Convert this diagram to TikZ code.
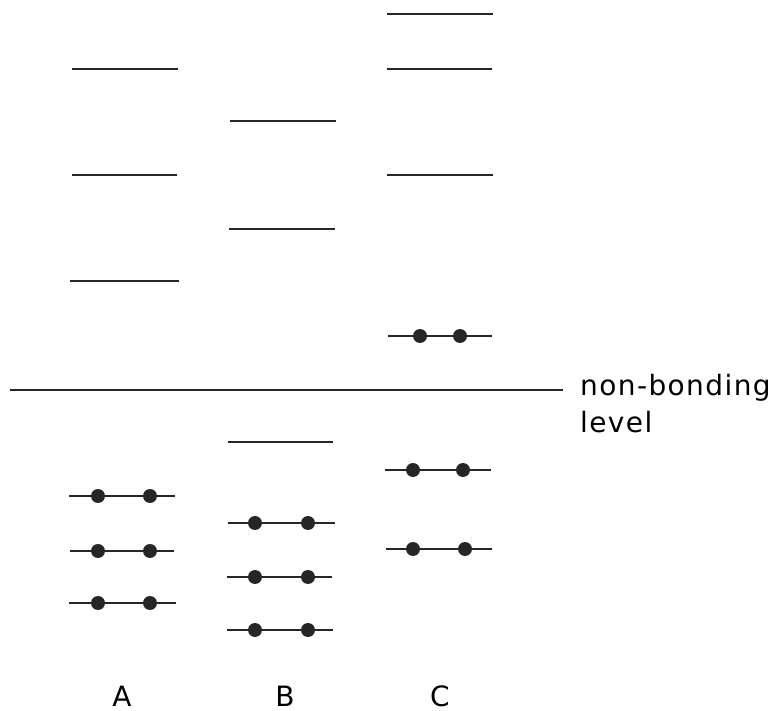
\documentclass[tikz,border=0pt]{standalone}
\usepackage{fontspec}
\newfontfamily\labelfont[LetterSpace=5]{DejaVu Sans}

\begin{document}
\begin{tikzpicture}[x=1pt,y=-1pt]
  \useasboundingbox (0,0) rectangle (772,711);
  \tikzset{electron/.style={fill=black!85},
    lbl/.style={inner sep=0pt, font=\labelfont\fontsize{28}{30}\selectfont}}
  \begin{scope}[line width=2.6pt,black!85]
  % column A
  \draw (72, 69) -- (178, 69);
  \draw (72, 175) -- (177, 175);
  \draw (70, 281) -- (179, 281);
  \draw (69, 496) -- (175, 496);
  \draw (70, 551) -- (174, 551);
  \draw (69, 603) -- (176, 603);
  % column B
  \draw (230, 121) -- (336, 121);
  \draw (229, 229) -- (335, 229);
  \draw (228, 442) -- (333, 442);
  \draw (228, 523) -- (335, 523);
  \draw (227, 577) -- (332, 577);
  \draw (227, 630) -- (333, 630);
  % column C
  \draw (387, 14) -- (493, 14);
  \draw (387, 69) -- (492, 69);
  \draw (387, 175) -- (493, 175);
  \draw (388, 336) -- (492, 336);
  \draw (385, 470) -- (491, 470);
  \draw (386, 549) -- (492, 549);
  % non-bonding level
  \draw (10, 390) -- (563, 390);
  \end{scope}
  \foreach \x/\y in {98/496, 150/496, 98/551, 150/551, 98/603, 150/603,
                     255/523, 308/523, 255/577, 308/577, 255/630, 308/630,
                     420/336, 460/336, 413/470, 463/470, 413/549, 465/549}
    \fill[electron] (\x, \y) circle (7);
  \node[lbl, anchor=base west] (nbtext) at (580, 396) {non-bonding};
  \node[lbl, anchor=base west] (lvtext) at (580, 433) {level};
  \node[lbl, anchor=base] (labA) at (122, 706) {A};
  \node[lbl, anchor=base] (labB) at (285, 706) {B};
  \node[lbl, anchor=base] (labC) at (440, 706) {C};
\end{tikzpicture}
\end{document}
